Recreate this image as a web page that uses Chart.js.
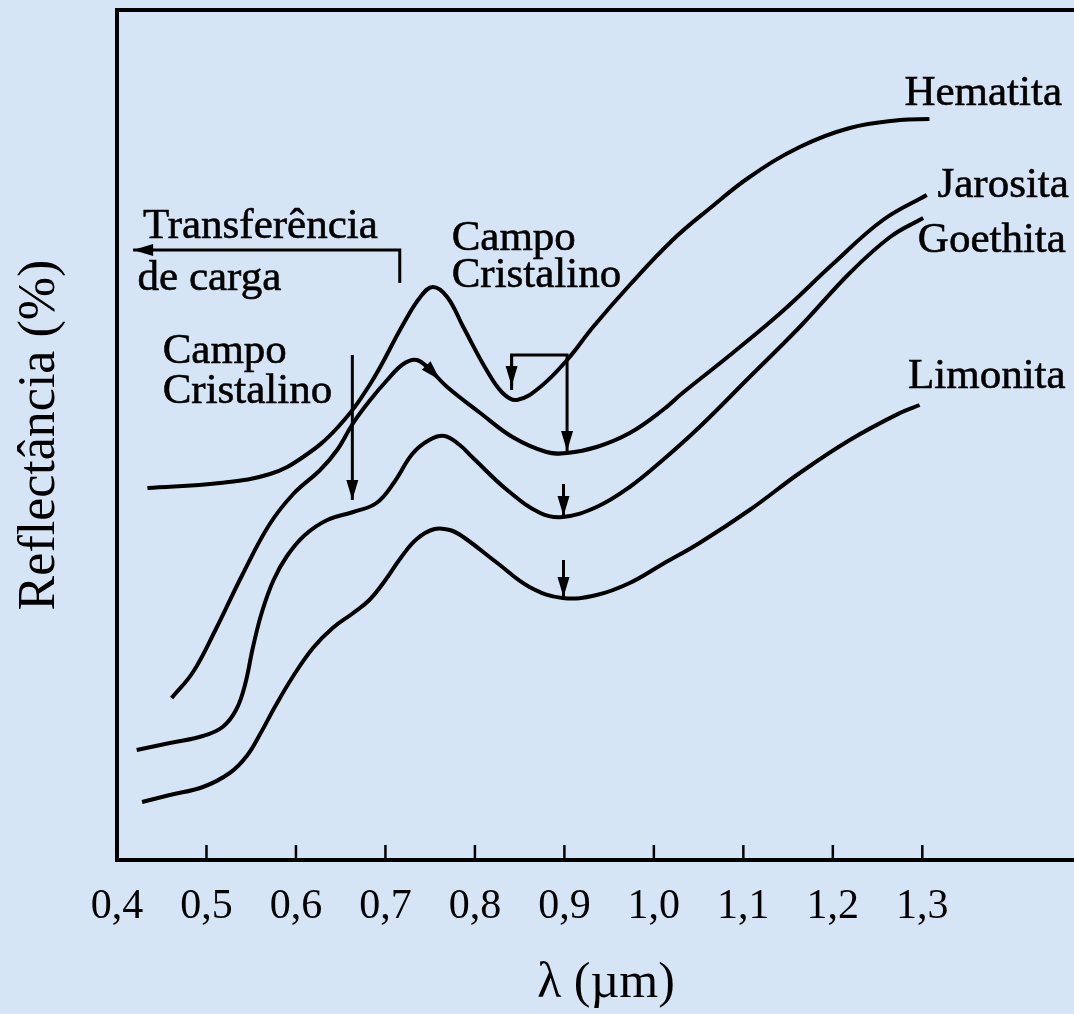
<!DOCTYPE html>
<html>
<head>
<meta charset="utf-8">
<script src="https://cdn.jsdelivr.net/npm/chart.js@4.4.1/dist/chart.umd.min.js"></script>
<style>
  html, body { margin: 0; padding: 0; overflow: hidden; background: #d5e5f6; }
  #wrap { width: 1100px; height: 1014px; }
</style>
</head>
<body>
<div id="wrap"><canvas id="myChart" width="1100" height="1014"></canvas></div>
<script>
// wavelength (um) and reflectance (arbitrary)
const hematitaX = [0.434, 0.515, 0.571, 0.608, 0.646, 0.683, 0.720, 0.739, 0.753, 0.769, 0.787, 0.813, 0.831, 0.847, 0.873, 0.903, 0.932, 0.973, 1.021, 1.063, 1.107, 1.163, 1.219, 1.275, 1.308];
const hematitaY = [37.2, 37.7, 38.6, 40.3, 43.2, 47.6, 53.6, 56.3, 57.3, 56.3, 53.3, 49.0, 46.7, 46.0, 47.3, 50.0, 53.3, 57.5, 62.0, 65.2, 68.3, 71.3, 73.2, 74.0, 74.1];

const jarositaX = [0.461, 0.485, 0.510, 0.540, 0.570, 0.597, 0.627, 0.646, 0.664, 0.683, 0.702, 0.720, 0.735, 0.750, 0.769, 0.806, 0.842, 0.880, 0.903, 0.936, 0.973, 1.010, 1.032, 1.088, 1.144, 1.200, 1.256, 1.305];
const jarositaY = [16.2, 18.8, 23.0, 28.5, 33.5, 36.6, 39.0, 41.0, 43.7, 46.0, 48.0, 49.6, 50.0, 49.0, 47.3, 44.7, 42.3, 40.8, 40.7, 41.3, 42.7, 45.0, 46.7, 50.7, 54.9, 59.6, 64.0, 66.5];

const goethitaX = [0.422, 0.459, 0.496, 0.518, 0.533, 0.543, 0.552, 0.562, 0.575, 0.590, 0.610, 0.635, 0.664, 0.690, 0.710, 0.730, 0.749, 0.766, 0.783, 0.798, 0.836, 0.873, 0.898, 0.936, 0.973, 1.010, 1.051, 1.107, 1.163, 1.219, 1.264, 1.301];
const goethitaY = [11.0, 11.7, 12.4, 13.3, 15.0, 17.5, 21.3, 24.8, 28.0, 30.4, 32.5, 34.0, 34.8, 35.7, 37.8, 40.6, 42.0, 42.4, 41.5, 40.2, 37.0, 34.7, 34.3, 35.3, 37.3, 40.0, 43.3, 48.3, 53.3, 58.7, 62.3, 64.2];

const limonitaX = [0.428, 0.459, 0.496, 0.526, 0.545, 0.560, 0.577, 0.597, 0.619, 0.641, 0.664, 0.682, 0.700, 0.717, 0.735, 0.755, 0.772, 0.787, 0.825, 0.861, 0.898, 0.936, 0.973, 1.010, 1.051, 1.107, 1.163, 1.219, 1.275, 1.297];
const limonitaY = [5.8, 6.5, 7.3, 8.7, 10.4, 12.6, 15.4, 18.4, 21.2, 23.2, 24.7, 26.0, 28.0, 30.2, 32.1, 33.1, 33.0, 32.3, 29.7, 27.3, 26.2, 26.5, 27.7, 29.6, 31.7, 35.0, 38.7, 42.0, 44.7, 45.5];

const tickValues = [0.4, 0.5, 0.6, 0.7, 0.8, 0.9, 1.0, 1.1, 1.2, 1.3];
const tickLabels = ['0,4', '0,5', '0,6', '0,7', '0,8', '0,9', '1,0', '1,1', '1,2', '1,3'];

// text labels: [text, x, y] with x,y in data units (left / baseline)
const notes = [
  ['Transferência', 0.429, 62.2],
  ['de carga', 0.423, 57.0],
  ['Campo', 0.451, 49.7],
  ['Cristalino', 0.451, 45.7],
  ['Campo', 0.774, 61.0],
  ['Cristalino', 0.774, 57.3],
  ['Hematita', 1.280, 75.5],
  ['Jarosita', 1.317, 66.3],
  ['Goethita', 1.295, 60.8],
  ['Limonita', 1.284, 47.2]
];

// polylines in data units; head = draw arrowhead at last point
const marks = [
  { pts: [[0.716, 57.7], [0.716, 61.0], [0.418, 61.0]], head: true },
  { pts: [[0.663, 50.5], [0.663, 36.0]], head: true },
  { pts: [[0.744, 49.6], [0.761, 48.0]], head: true },
  { pts: [[0.841, 47.0], [0.841, 50.5], [0.903, 50.5], [0.903, 40.9]], head: true },
  { pts: [[0.841, 50.5], [0.841, 47.4]], head: true },
  { pts: [[0.899, 37.6], [0.899, 34.4]], head: true },
  { pts: [[0.899, 30.0], [0.899, 26.3]], head: true }
];

function zip(xs, ys) {
  return xs.map((x, i) => ({ x: x, y: ys[i] }));
}

const serif = '"Liberation Serif", "Times New Roman", serif';

const frame = {
  id: 'frame',
  afterDraw(chart) {
    const ctx = chart.ctx;
    const a = chart.chartArea;
    const xs = chart.scales.x, ys = chart.scales.y;
    ctx.save();
    ctx.strokeStyle = '#000';
    ctx.lineWidth = 4;
    ctx.beginPath();
    ctx.moveTo(a.left, a.top);
    ctx.lineTo(a.right, a.top);
    ctx.lineTo(a.right, a.bottom);
    ctx.stroke();

    // inward tick marks
    ctx.lineWidth = 2.5;
    tickValues.slice(1).forEach(v => {
      const px = xs.getPixelForValue(v);
      ctx.beginPath();
      ctx.moveTo(px, a.bottom);
      ctx.lineTo(px, a.bottom - 15);
      ctx.stroke();
    });

    // arrows and brackets
    ctx.lineWidth = 3;
    ctx.fillStyle = '#000';
    marks.forEach(m => {
      const p = m.pts.map(q => [xs.getPixelForValue(q[0]), ys.getPixelForValue(q[1])]);
      ctx.beginPath();
      ctx.moveTo(p[0][0], p[0][1]);
      for (let i = 1; i < p.length; i++) ctx.lineTo(p[i][0], p[i][1]);
      ctx.stroke();
      if (m.head) {
        const e = p[p.length - 1], s = p[p.length - 2];
        const ang = Math.atan2(e[1] - s[1], e[0] - s[0]);
        ctx.save();
        ctx.translate(e[0], e[1]);
        ctx.rotate(ang);
        ctx.beginPath();
        ctx.moveTo(0, 0);
        ctx.lineTo(-20, -6);
        ctx.lineTo(-20, 6);
        ctx.closePath();
        ctx.fill();
        ctx.restore();
      }
    });

    // text labels
    ctx.font = '43px ' + serif;
    ctx.textAlign = 'left';
    ctx.textBaseline = 'alphabetic';
    ctx.lineWidth = 0.6;
    notes.forEach(n => {
      const px = xs.getPixelForValue(n[1]), py = ys.getPixelForValue(n[2]);
      ctx.fillText(n[0], px, py);
      ctx.strokeText(n[0], px, py);
    });
    ctx.restore();
  }
};

function series(label, xs, ys) {
  return {
    label: label,
    data: zip(xs, ys),
    borderColor: '#000',
    borderWidth: 4,
    pointRadius: 0,
    tension: 0.4,
    fill: false
  };
}

const config = {
  type: 'line',
  data: {
    datasets: [
      series('Hematita', hematitaX, hematitaY),
      series('Jarosita', jarositaX, jarositaY),
      series('Goethita', goethitaX, goethitaY),
      series('Limonita', limonitaX, limonitaY)
    ]
  },
  options: {
    responsive: false,
    animation: false,
    layout: { padding: { top: 10, right: 5, left: 0, bottom: 0 } },
    plugins: { legend: { display: false }, tooltip: { enabled: false } },
    scales: {
      x: {
        type: 'linear',
        min: 0.4,
        max: 1.493,
        afterBuildTicks: s => { s.ticks = tickValues.map(v => ({ value: v })); },
        afterFit: s => { s.height = 154; },
        grid: { display: false, drawTicks: false },
        border: { display: true, color: '#000', width: 4 },
        ticks: {
          color: '#000',
          padding: 22,
          maxRotation: 0,
          autoSkip: false,
          font: { family: serif, size: 42 },
          callback: (v) => tickLabels[tickValues.indexOf(Math.round(v * 10) / 10)]
        },
        title: {
          display: true,
          text: 'λ (µm)',
          color: '#000',
          font: { family: serif, size: 50 },
          padding: { top: 0, bottom: 0 }
        }
      },
      y: {
        min: 0,
        max: 85,
        afterFit: s => { s.width = 117; },
        grid: { display: false, drawTicks: false },
        border: { display: true, color: '#000', width: 4 },
        ticks: { display: false },
        title: {
          display: true,
          text: 'Reflectância (%)',
          color: '#000',
          font: { family: serif, size: 52 },
          padding: { top: 9, bottom: 0 }
        }
      }
    }
  },
  plugins: [frame]
};

var myChart = new Chart(document.getElementById('myChart'), config);
</script>
</body>
</html>
